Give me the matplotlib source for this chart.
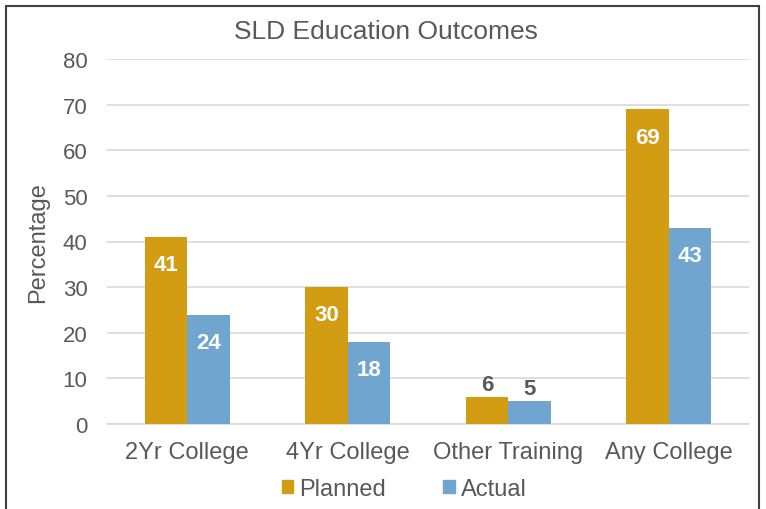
import numpy as np
import matplotlib
matplotlib.use("Agg")
from matplotlib import pyplot as plt
from matplotlib.patches import Patch, Rectangle

categories = ["2Yr College", "4Yr College", "Other Training", "Any College"]
planned = [41, 30, 6, 69]
actual = [24, 18, 5, 43]
series_names = ["Planned", "Actual"]
colors = ["#D29D12", "#70A5CF"]
text_gray = "#595959"

plt.rcParams["font.family"] = ["Liberation Sans", "DejaVu Sans"]

fig = plt.figure(figsize=(7.66, 5.10), dpi=100)
ax = fig.add_axes([107 / 766, 1 - 425 / 510, (749 - 107) / 766, (425 - 60) / 510])

x = np.arange(len(categories))
w = 0.265
b1 = ax.bar(x - w / 2, planned, w, color=colors[0], zorder=3)
b2 = ax.bar(x + w / 2, actual, w, color=colors[1], zorder=3)

for bars, vals in [(b1, planned), (b2, actual)]:
    for rect, v in zip(bars, vals):
        cx = rect.get_x() + rect.get_width() / 2
        if v >= 10:
            ax.text(cx, v - 6.1, str(v), ha="center", va="center", color="white",
                    fontsize=16, fontweight="bold", zorder=4)
        else:
            ax.text(cx, v + 2.7, str(v), ha="center", va="center", color=text_gray,
                    fontsize=16, fontweight="bold", zorder=4)

ax.set_xlim(-0.5, len(categories) - 0.5)
ax.set_ylim(0, 80)
ax.set_yticks(range(0, 81, 10))
ax.set_xticks(x)
ax.set_xticklabels(categories)
ax.grid(axis="y", color="#D9D9D9", linewidth=1.2, zorder=0)
for s in ["top", "right", "left"]:
    ax.spines[s].set_visible(False)
ax.spines["bottom"].set_color("#D9D9D9")
ax.spines["bottom"].set_linewidth(1.2)
ax.tick_params(axis="both", length=0, labelcolor=text_gray)
ax.tick_params(axis="y", pad=14, labelsize=16)
ax.tick_params(axis="x", pad=12, labelsize=17)
ax.set_ylabel("Percentage", fontsize=17, color=text_gray, labelpad=10)

fig.text(386 / 766, 1 - 32 / 510, "SLD Education Outcomes", ha="center", va="center",
         fontsize=19, color=text_gray)

handles = [Patch(color=c) for c in colors]
fig.legend(handles, series_names, loc="center", bbox_to_anchor=(404 / 766, 1 - 490 / 510),
           ncol=2, frameon=False, fontsize=17, labelcolor=text_gray,
           handlelength=0.5, handleheight=0.5, handletextpad=0.25, columnspacing=2.4)

fig.patches.append(Rectangle((6 / 766, -0.1), (759 - 6) / 766, 1.1 - 7 / 510,
                             transform=fig.transFigure, fill=False,
                             edgecolor="#404040", linewidth=1.5))

fig.savefig("out.png", dpi=100)
